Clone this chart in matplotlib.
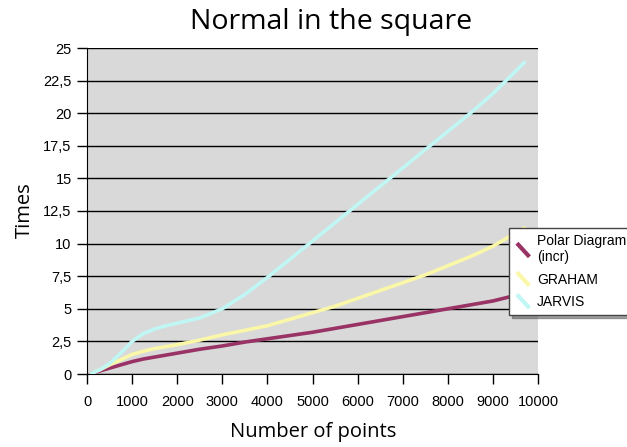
import matplotlib
matplotlib.use("Agg")
import matplotlib.pyplot as plt
from matplotlib.legend_handler import HandlerLine2D
from matplotlib.lines import Line2D

# data
points = [100, 300, 500, 750, 1000, 1250, 1500, 1750, 2000, 2500, 3000, 3500,
          4000, 4500, 5000, 5500, 6000, 6500, 7000, 7500, 8000, 8500, 9000, 9700]
polar = [0.05, 0.25, 0.45, 0.7, 0.95, 1.15, 1.3, 1.45, 1.6, 1.9, 2.15, 2.45,
         2.7, 2.95, 3.2, 3.5, 3.8, 4.1, 4.4, 4.7, 5.0, 5.3, 5.6, 6.2]
graham = [0.05, 0.35, 0.7, 1.1, 1.5, 1.75, 1.95, 2.1, 2.25, 2.6, 3.0, 3.35,
          3.7, 4.2, 4.7, 5.2, 5.8, 6.4, 7.0, 7.6, 8.3, 9.0, 9.8, 11.2]
jarvis = [0.05, 0.35, 0.8, 1.6, 2.5, 3.1, 3.45, 3.7, 3.9, 4.3, 5.0, 6.1,
          7.4, 8.8, 10.2, 11.6, 13.0, 14.4, 15.8, 17.2, 18.6, 20.0, 21.5, 23.9]
series_names = ["Polar Diagram\n(incr)", "GRAHAM", "JARVIS"]
series_colors = ["#993366", "#fbf7a8", "#c0f6f4"]
yticks = [0, 2.5, 5, 7.5, 10, 12.5, 15, 17.5, 20, 22.5, 25]
xticks = list(range(0, 10001, 1000))


class DiagonalHandler(HandlerLine2D):
    # legend keys in the reference are short diagonal strokes
    def create_artists(self, legend, orig_handle, xdescent, ydescent,
                       width, height, fontsize, trans):
        line = Line2D([width * 0.1, width * 0.85],
                      [height * 1.2, height * -0.2],
                      color=orig_handle.get_color(), linewidth=3,
                      solid_capstyle="butt", transform=trans)
        return [line]


fig = plt.figure(figsize=(6.27, 4.47), dpi=100)
ax = fig.add_axes([87 / 627, 1 - 374 / 447, 451 / 627, 326 / 447])
ax.set_facecolor("#d9d9d9")

lines = []
for vals, name, col in zip([polar, graham, jarvis], series_names, series_colors):
    ln, = ax.plot(points, vals, color=col, linewidth=2.6,
                  label=name, solid_capstyle="round", solid_joinstyle="round", zorder=3)
    lines.append(ln)

ax.set_xlim(0, 10000)
ax.set_ylim(0, 25)
ax.set_yticks(yticks)
ax.set_yticklabels([("%g" % v).replace(".", ",") for v in yticks])
ax.set_xticks(xticks)
ax.set_xticklabels([str(v) for v in xticks])
ax.yaxis.grid(True, color="black", linewidth=1.0)
ax.set_axisbelow(True)
for s in ["top", "right"]:
    ax.spines[s].set_visible(False)
ax.spines["left"].set_color("black")
ax.spines["bottom"].set_color("black")
ax.tick_params(axis="both", direction="out", length=7, width=1, labelsize=10.5)
ax.tick_params(axis="y", pad=4)
ax.tick_params(axis="x", pad=8)
for t in ax.get_xticklabels() + ax.get_yticklabels():
    t.set_family(["Liberation Sans", "DejaVu Sans"])

fig.text(331 / 627, 1 - 22 / 447, "Normal in the square", ha="center", va="center",
         fontsize=20.5, family=["Open Sans", "DejaVu Sans"])
fig.text(25 / 627, 1 - 210 / 447, "Times", ha="center", va="center", rotation=90,
         fontsize=14.5, family=["Open Sans", "DejaVu Sans"])
fig.text(313 / 627, 1 - 432 / 447, "Number of points", ha="center", va="center",
         fontsize=14.5, family=["Open Sans", "DejaVu Sans"])

leg = fig.legend(handles=lines, loc="upper left",
                 bbox_to_anchor=(509 / 627, 1 - 228 / 447),
                 frameon=True, fancybox=False, shadow=True, borderaxespad=0,
                 handler_map={Line2D: DiagonalHandler()},
                 handlelength=1.2, handletextpad=0.35, labelspacing=0.6,
                 borderpad=0.45,
                 prop={"family": ["Liberation Sans", "DejaVu Sans"], "size": 10})
leg.get_frame().set_edgecolor("#444444")
leg.get_frame().set_linewidth(1.0)

fig.savefig("out.png", dpi=100)
